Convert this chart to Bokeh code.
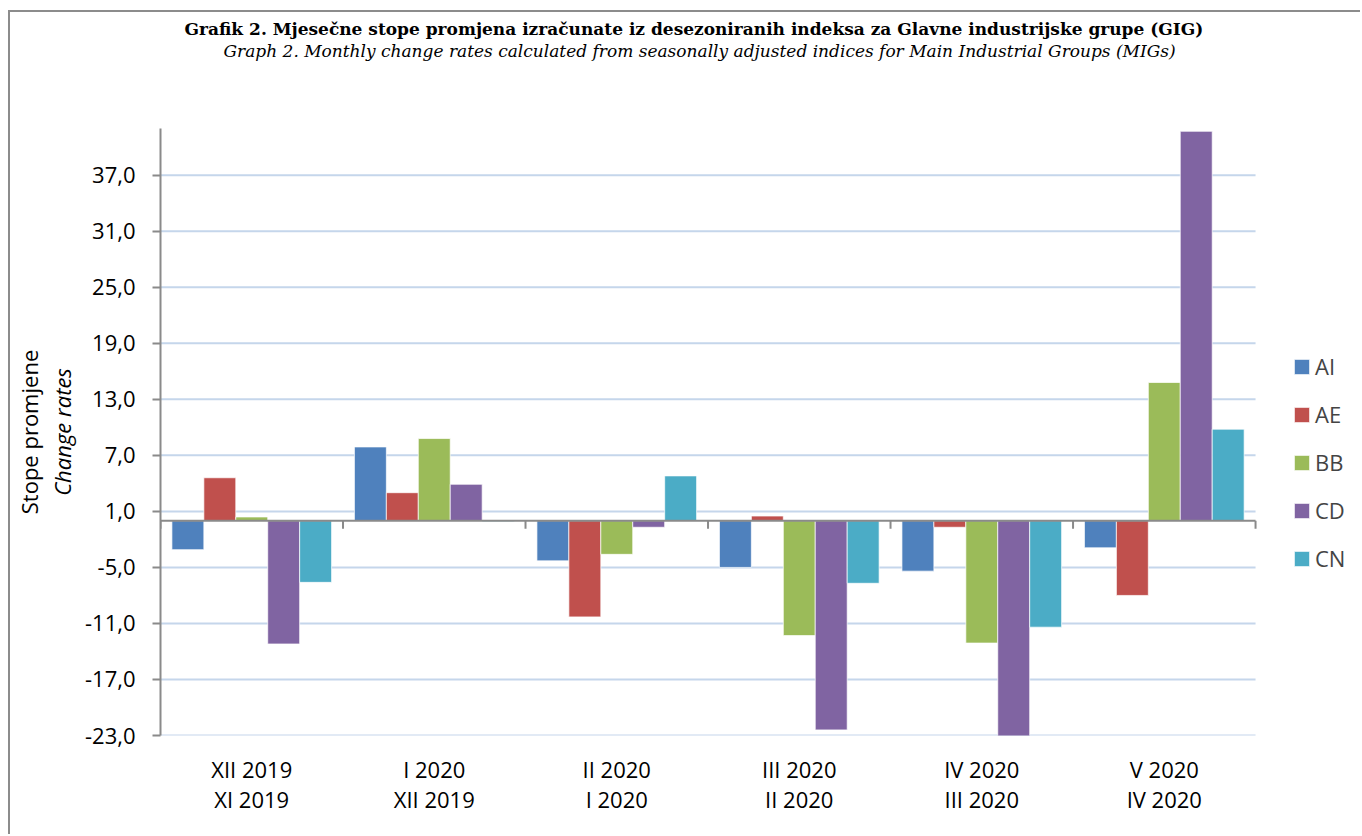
from bokeh.plotting import figure
from bokeh.models import (ColumnDataSource, Range1d, FixedTicker, LinearAxis,
                          CustomJSTickFormatter, Legend, LegendItem, Title)
from bokeh.transform import dodge
from bokeh.embed import file_html
from bokeh.resources import INLINE

# ---- data ----
periods = ["XII 2019", "I 2020", "II 2020", "III 2020", "IV 2020", "V 2020"]
previous = ["XI 2019", "XII 2019", "I 2020", "II 2020", "III 2020", "IV 2020"]
series_names = ["AI", "AE", "BB", "CD", "CN"]
AI = [-3.1, 7.9, -4.3, -5.0, -5.4, -2.9]
AE = [4.6, 3.0, -10.3, 0.5, -0.7, -8.0]
BB = [0.4, 8.8, -3.6, -12.3, -13.1, 14.8]
CD = [-13.2, 3.9, -0.7, -22.4, -23.3, 41.7]
CN = [-6.6, -0.1, 4.8, -6.7, -11.4, 9.8]
y_ticks = [-23, -17, -11, -5, 1, 7, 13, 19, 25, 31, 37]

title_main = "Grafik 2. Mjesečne stope promjena izračunate iz desezoniranih indeksa za Glavne industrijske grupe (GIG)"
title_sub = "Graph 2. Monthly change rates calculated from seasonally adjusted indices for Main Industrial Groups (MIGs)"
ylabel_local = "Stope promjene"
ylabel_en = "Change rates"

colors = ["#4F81BD", "#C0504D", "#9BBB59", "#8064A2", "#4BACC6"]
FONT = "Open Sans"
GRID = "#C5D6EB"
AXIS = "#8A8A8A"

n = len(periods)
centers = [i + 0.5 for i in range(n)]          # category slots on a numeric scale
bounds = list(range(n + 1))                      # category boundaries
src = ColumnDataSource(dict(xc=centers, AI=AI, AE=AE, BB=BB, CD=CD, CN=CN))

# frame spans the category area plus room on the right for the legend
p = figure(width=1352, height=824, x_range=Range1d(0, 6.586), y_range=Range1d(-23, 42),
           output_backend="svg", toolbar_location=None, title=None,
           min_border_left=150, min_border_right=0,
           min_border_top=116, min_border_bottom=101)
p.outline_line_color = None
p.background_fill_color = "white"
p.border_fill_color = "white"
p.styles = {"margin-left": "8px", "margin-top": "10px",
            "border-left": "2px solid #8C8C8C", "border-top": "2px solid #8C8C8C"}
p.xgrid.visible = False
p.ygrid.visible = False

# horizontal gridlines limited to the category area
p.segment(x0=[bounds[0]] * len(y_ticks), x1=[bounds[-1]] * len(y_ticks),
          y0=y_ticks, y1=y_ticks, line_color=GRID, line_width=2)

# y axis
p.yaxis.ticker = FixedTicker(ticks=y_ticks)
p.yaxis.formatter = CustomJSTickFormatter(code="return tick.toFixed(1).replace('.', ',');")
p.yaxis.axis_line_color = AXIS
p.yaxis.axis_line_width = 2
p.yaxis.major_tick_line_color = AXIS
p.yaxis.major_tick_line_width = 2
p.yaxis.major_tick_out = 8
p.yaxis.major_tick_in = 0
p.yaxis.minor_tick_line_color = None
p.yaxis.major_label_standoff = 17
p.yaxis.major_label_text_font = FONT
p.yaxis.major_label_text_font_size = "22px"
p.yaxis.major_label_text_color = "black"


def style_xaxis(ax, labels, standoff):
    ax.ticker = FixedTicker(ticks=centers)
    ax.major_label_overrides = {c: lab for c, lab in zip(centers, labels)}
    ax.axis_line_color = None
    ax.major_tick_line_color = None
    ax.minor_tick_line_color = None
    ax.major_tick_out = 0
    ax.major_tick_in = 0
    ax.minor_tick_out = 0
    ax.major_label_standoff = standoff
    ax.major_label_text_font = FONT
    ax.major_label_text_font_size = "22px"
    ax.major_label_text_color = "black"


style_xaxis(p.xaxis[0], periods, 18)
ax2 = LinearAxis()
style_xaxis(ax2, previous, -3)
p.add_layout(ax2, "below")

# bars
offsets = [-0.35, -0.175, 0.0, 0.175, 0.35]
items = []
for name, off, col in zip(series_names, offsets, colors):
    r = p.vbar(x=dodge("xc", off), top=name, bottom=0, width=0.175, source=src,
               fill_color=col, line_color="white", line_width=1, line_alpha=0.7)
    items.append(LegendItem(label=name, renderers=[r]))

# category axis line at zero with separating ticks
p.segment(x0=[bounds[0]], x1=[bounds[-1]], y0=[0], y1=[0], line_color=AXIS, line_width=2)
p.segment(x0=bounds, y0=[0] * len(bounds), x1=bounds, y1=[-0.85] * len(bounds),
          line_color=AXIS, line_width=2)

# legend
legend = Legend(items=items, location=(1132, 162), border_line_color=None,
                background_fill_alpha=0, padding=0, margin=0, glyph_width=19,
                glyph_height=19, label_standoff=4, label_height=30, spacing=18,
                label_text_font=FONT, label_text_font_size="22px")
p.add_layout(legend)

# titles (first added is closest to the frame)
spacer = Title(text=" ", text_font_size="10px", standoff=55)
p.add_layout(spacer, "above")
sub = Title(text=title_sub, align="left", offset=63, text_font="DejaVu Serif",
            text_font_style="italic", text_font_size="17px", text_color="black",
            standoff=0)
p.add_layout(sub, "above")
main = Title(text=title_main, align="left", offset=24, text_font="DejaVu Serif",
             text_font_style="bold", text_font_size="17px", text_color="black",
             standoff=0)
p.add_layout(main, "above")

# y axis titles
yl2 = Title(text=ylabel_en, align="center", text_font=FONT, text_font_style="italic",
            text_font_size="22px", text_color="black", standoff=10)
p.add_layout(yl2, "left")
yl1 = Title(text=ylabel_local, align="center", text_font=FONT, text_font_style="normal",
            text_font_size="22px", text_color="black", standoff=-8)
p.add_layout(yl1, "left")

open("out.html", "w").write(file_html(p, INLINE))
